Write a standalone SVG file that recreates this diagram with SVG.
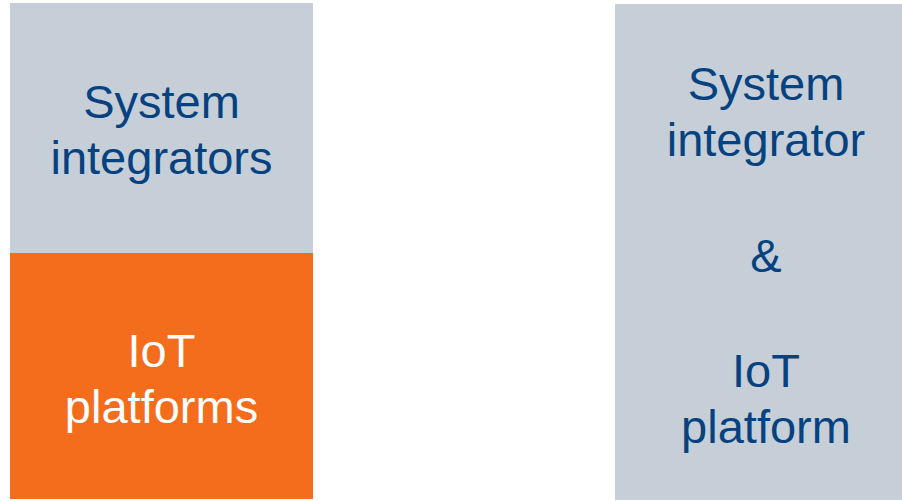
<svg xmlns="http://www.w3.org/2000/svg" width="902" height="501" viewBox="0 0 902 501">
<style>
.t{font-family:"Liberation Sans",Arial,sans-serif;font-size:47px;text-anchor:middle}
.b{fill:#06427F}
.w{fill:#FFFFFF}
</style>
<rect width="902" height="501" fill="#FFFFFF"/>
<g id="system-integrators">
<rect x="10" y="3" width="303" height="250" fill="#C6CED8"/>
<text class="t b" x="161.5" y="118">System</text>
<text class="t b" x="161.5" y="174">integrators</text>
</g>
<g id="iot-platforms">
<rect x="10" y="253" width="303" height="246" fill="#F36D1D"/>
<text class="t w" x="161.5" y="367">IoT</text>
<text class="t w" x="161.5" y="423">platforms</text>
</g>
<g id="combined">
<rect x="615" y="4" width="287" height="496" fill="#C6CED8"/>
<text class="t b" x="766" y="100">System</text>
<text class="t b" x="766" y="156">integrator</text>
<text class="t b" x="766" y="272">&amp;</text>
<text class="t b" x="766" y="387">IoT</text>
<text class="t b" x="766" y="443">platform</text>
</g>
<g id="connectors"/>
</svg>
